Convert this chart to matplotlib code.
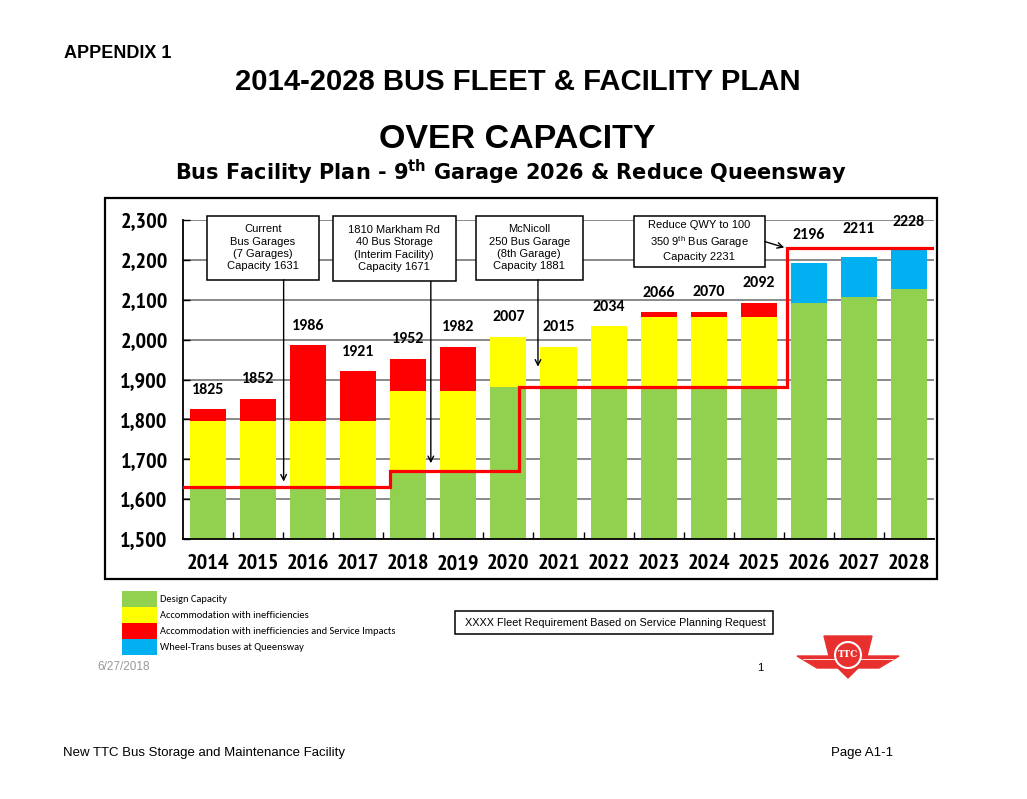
import matplotlib
matplotlib.use("Agg")
from matplotlib import pyplot as plt
from matplotlib.patches import Rectangle, Polygon, Circle

plt.rcParams['font.family'] = ['Liberation Sans', 'DejaVu Sans']
plt.rcParams['mathtext.fontset'] = 'custom'
plt.rcParams['mathtext.rm'] = 'Liberation Sans'
plt.rcParams['mathtext.bf'] = 'DejaVu Sans:bold'

NARROW = ['Liberation Sans Narrow', 'PT Sans Narrow', 'Liberation Sans']
CALIBRI = ['Carlito', 'Liberation Sans']

years = [str(y) for y in range(2014, 2029)]
design = [1631, 1631, 1631, 1631, 1671, 1671, 1881, 1881, 1881, 1881, 1881, 1881, 2092, 2108, 2126]
ineff = [164, 164, 164, 164, 201, 201, 126, 101, 153, 175, 175, 175, 0, 0, 0]
impacts = [30, 57, 191, 126, 80, 110, 0, 0, 0, 13, 14, 36, 0, 0, 0]
wheeltrans = [0, 0, 0, 0, 0, 0, 0, 0, 0, 0, 0, 0, 101, 100, 100]
fleet_req = [1825, 1852, 1986, 1921, 1952, 1982, 2007, 2015, 2034, 2066, 2070, 2092, 2196, 2211, 2228]

capacity = [1631, 1671, 1881, 2231]
capacity_steps = [-0.5, 3.64, 6.22, 11.56, 14.47]

GREEN = '#92D050'
YELLOW = '#FFFF00'
RED = '#FF0000'
BLUE = '#00B0F0'

fig = plt.figure(figsize=(10.27, 7.99), dpi=100)
ax = fig.add_axes([183 / 1027, 1 - 539 / 799, 751 / 1027, 319 / 799])

x = list(range(len(years)))
w = 0.72
b1 = [d + i for d, i in zip(design, ineff)]
b2 = [a + r for a, r in zip(b1, impacts)]
ax.bar(x, design, w, color=GREEN, zorder=2)
ax.bar(x, ineff, w, bottom=design, color=YELLOW, zorder=2)
ax.bar(x, impacts, w, bottom=b1, color=RED, zorder=2)
ax.bar(x, wheeltrans, w, bottom=design, color=BLUE, zorder=2)

tops = [t + wt for t, wt in zip(b2, wheeltrans)]
for i, (top, lab) in enumerate(zip(tops, fleet_req)):
    off = 20 if wheeltrans[i] else 14
    ax.annotate(str(lab), (i, top), xytext=(0, off), textcoords='offset points',
                ha='center', va='center', fontsize=11.5, fontweight='bold',
                family=CALIBRI, zorder=4)

# capacity step line
cx, cy = [], []
for k, c in enumerate(capacity):
    cx += [capacity_steps[k], capacity_steps[k + 1]]
    cy += [c, c]
ax.plot(cx, cy, color=RED, lw=2.3, zorder=3, solid_joinstyle='miter')

ax.set_xlim(-0.5, 14.5)
ax.set_ylim(1500, 2300)
ax.set_yticks(range(1500, 2301, 100))
ax.set_yticklabels([f'{v:,}' for v in range(1500, 2301, 100)], fontsize=16,
                   fontweight='bold', family=NARROW)
ax.set_xticks(x)
ax.set_xticklabels(years, fontsize=16, fontweight='bold', family=NARROW)
ax.set_xticks([i + 0.5 for i in x[:-1]], minor=True)
ax.tick_params(axis='x', which='major', length=0, pad=11)
ax.tick_params(axis='x', which='minor', direction='in', length=5, width=1)
ax.tick_params(axis='y', direction='in', length=5, width=1, pad=11)
ax.yaxis.grid(True, color='#808080', lw=1.3, zorder=0)
ax.set_axisbelow(True)
for s in ['top', 'right']:
    ax.spines[s].set_visible(False)
for s in ['left', 'bottom']:
    ax.spines[s].set_linewidth(1.3)

# note boxes with arrows
notes = [
    ((-0.03, 2150), 2.25, 161, 'Current\nBus Garages\n(7 Garages)\nCapacity 1631'),
    ((2.49, 2146), 2.46, 165, '1810 Markham Rd\n40 Bus Storage\n(Interim Facility)\nCapacity 1671'),
    ((5.35, 2150), 2.13, 161, 'McNicoll\n250 Bus Garage\n(8th Garage)\nCapacity 1881'),
    ((8.5, 2183), 2.62, 128, 'Reduce QWY to 100\n350 9$^{\\mathrm{th}}$ Bus Garage\nCapacity 2231'),
]
for (x0, y0), bw, bh, txt in notes:
    ax.add_patch(Rectangle((x0, y0), bw, bh, facecolor='white', edgecolor='black',
                           lw=1.1, zorder=6, clip_on=False))
    ax.text(x0 + bw / 2, y0 + bh / 2, txt, ha='center', va='center', fontsize=8,
            linespacing=1.3, zorder=7)

arrows = [((1.51, 2150), (1.51, 1644)),
          ((4.45, 2146), (4.45, 1690)),
          ((6.59, 2150), (6.59, 1932)),
          ((11.12, 2246), (11.51, 2231))]
for start, tip in arrows:
    ax.annotate('', xy=tip, xytext=start, zorder=7,
                arrowprops=dict(arrowstyle='->', lw=1, color='black',
                                shrinkA=0, shrinkB=0))

# outer frame
fig.patches.append(Rectangle((105 / 1027, 1 - 579 / 799), 832 / 1027, 381 / 799,
                             transform=fig.transFigure, fill=False, lw=1.6,
                             edgecolor='black'))

# titles
fig.text(64 / 1027, 1 - 58 / 799, 'APPENDIX 1', fontsize=13, fontweight='bold',
         va='baseline')
fig.text(518 / 1027, 1 - 90 / 799, '2014-2028 BUS FLEET & FACILITY PLAN', fontsize=21.1,
         fontweight='bold', ha='center', va='baseline')
fig.text(517 / 1027, 1 - 148 / 799, 'OVER CAPACITY', fontsize=24.5, fontweight='bold',
         ha='center', va='baseline')
fig.text(511 / 1027, 1 - 180 / 799,
         'Bus Facility Plan - 9$^{\\mathbf{th}}$ Garage 2026 & Reduce Queensway',
         fontsize=15, fontweight='bold', family='DejaVu Sans', ha='center', va='baseline')

# legend (colour swatches stacked without gaps)
leg_colors = [GREEN, YELLOW, RED, BLUE]
leg_labels = ['Design Capacity', 'Accommodation with inefficiencies',
              'Accommodation with inefficiencies and Service Impacts',
              'Wheel-Trans buses at Queensway']
for k, (c, lab) in enumerate(zip(leg_colors, leg_labels)):
    top = 591 + 16 * k
    fig.patches.append(Rectangle((122 / 1027, 1 - (top + 16) / 799), 35 / 1027, 16 / 799,
                                 transform=fig.transFigure, color=c, lw=0))
    fig.text(160 / 1027, 1 - (top + 8) / 799, lab, fontsize=7.5, family=CALIBRI,
             va='center')

fig.patches.append(Rectangle((455 / 1027, 1 - 634 / 799), 318 / 1027, 23 / 799,
                             transform=fig.transFigure, fill=False, lw=1.1,
                             edgecolor='black'))
fig.text(465 / 1027, 1 - 622.5 / 799,
         'XXXX Fleet Requirement Based on Service Planning Request',
         fontsize=7.8, va='center')

fig.text(97 / 1027, 1 - 667 / 799, '6/27/2018', fontsize=8.5, color='#999999', va='center')
fig.text(760 / 1027, 1 - 668 / 799, '1', fontsize=8, va='center', ha='center')

fig.text(63 / 1027, 1 - 753 / 799, 'New TTC Bus Storage and Maintenance Facility',
         fontsize=9.5, va='center')
fig.text(893 / 1027, 1 - 753 / 799, 'Page A1-1', fontsize=9.5, va='center', ha='right')

# TTC logo (simplified)
lax = fig.add_axes([795 / 1027, 1 - 681 / 799, 107 / 1027, 48 / 799])
lax.set_xlim(795, 902)
lax.set_ylim(681, 633)
lax.axis('off')
LOGO = '#E8312F'
lax.add_patch(Polygon([(797, 656), (836, 656), (840, 668), (817, 668)], color=LOGO))
lax.add_patch(Polygon([(899, 656), (860, 656), (856, 668), (879, 668)], color=LOGO))
lax.plot([803, 836], [659, 659], color='white', lw=0.6)
lax.plot([860, 893], [659, 659], color='white', lw=0.6)
lax.add_patch(Polygon([(824, 636), (872, 636), (866, 660), (848, 678), (830, 660)],
                      color=LOGO))
lax.add_patch(Circle((848, 655), 13, fill=False, edgecolor='white', lw=1.5))
lax.text(848, 655, 'TTC', color='white', fontsize=6.5, fontweight='bold',
         ha='center', va='center', family='DejaVu Serif')

fig.savefig('out.png', dpi=100)
